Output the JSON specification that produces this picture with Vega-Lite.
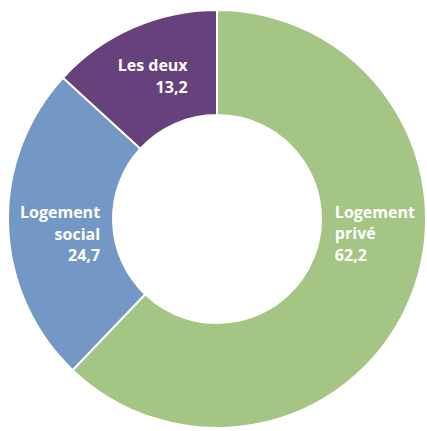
{
  "$schema": "https://vega.github.io/schema/vega-lite/v6.json",
  "width": 418,
  "height": 418,
  "autosize": {"type": "none"},
  "padding": {"left": 8, "top": 10, "right": 1, "bottom": 3},
  "background": "white",
  "view": {"stroke": null},
  "data": {
    "values": [
      {"cat": "Logement privé", "value": 62.2, "rank": 1, "label": "Logement\nprivé\n62,2"},
      {"cat": "Logement social", "value": 24.7, "rank": 2, "label": "Logement\nsocial\n24,7"},
      {"cat": "Les deux", "value": 13.2, "rank": 3, "label": "Les deux\n13,2"}
    ]
  },
  "encoding": {
    "theta": {"field": "value", "type": "quantitative", "stack": true},
    "order": {"field": "rank", "type": "quantitative"},
    "color": {
      "field": "cat",
      "type": "nominal",
      "scale": {"domain": ["Logement privé", "Logement social", "Les deux"], "range": ["#a4c584", "#7398c5", "#67417c"]},
      "legend": null
    }
  },
  "layer": [
    {
      "mark": {"type": "arc", "outerRadius": 209, "innerRadius": 104, "stroke": "white", "strokeWidth": 2}
    },
    {
      "mark": {"type": "text", "radius": 155, "align": "left", "baseline": "middle", "dx": -26, "dy": -64, "font": "Open Sans", "fontWeight": "bold", "fontSize": 16, "lineHeight": 21.5, "lineBreak": "\n"},
      "encoding": {
        "fill": {"value": "white"},
        "text": {"condition": {"test": "datum.cat === 'Logement privé'", "field": "label"}, "value": ""}
      }
    },
    {
      "mark": {"type": "text", "radius": 155, "align": "right", "baseline": "middle", "dx": 38, "dy": -11, "font": "Open Sans", "fontWeight": "bold", "fontSize": 16, "lineHeight": 21.5, "lineBreak": "\n"},
      "encoding": {
        "fill": {"value": "white"},
        "text": {"condition": {"test": "datum.cat === 'Logement social'", "field": "label"}, "value": ""}
      }
    },
    {
      "mark": {"type": "text", "radius": 155, "align": "right", "baseline": "middle", "dx": 33, "dy": -11, "font": "Open Sans", "fontWeight": "bold", "fontSize": 16, "lineHeight": 21.5, "lineBreak": "\n"},
      "encoding": {
        "fill": {"value": "white"},
        "text": {"condition": {"test": "datum.cat === 'Les deux'", "field": "label"}, "value": ""}
      }
    }
  ]
}
